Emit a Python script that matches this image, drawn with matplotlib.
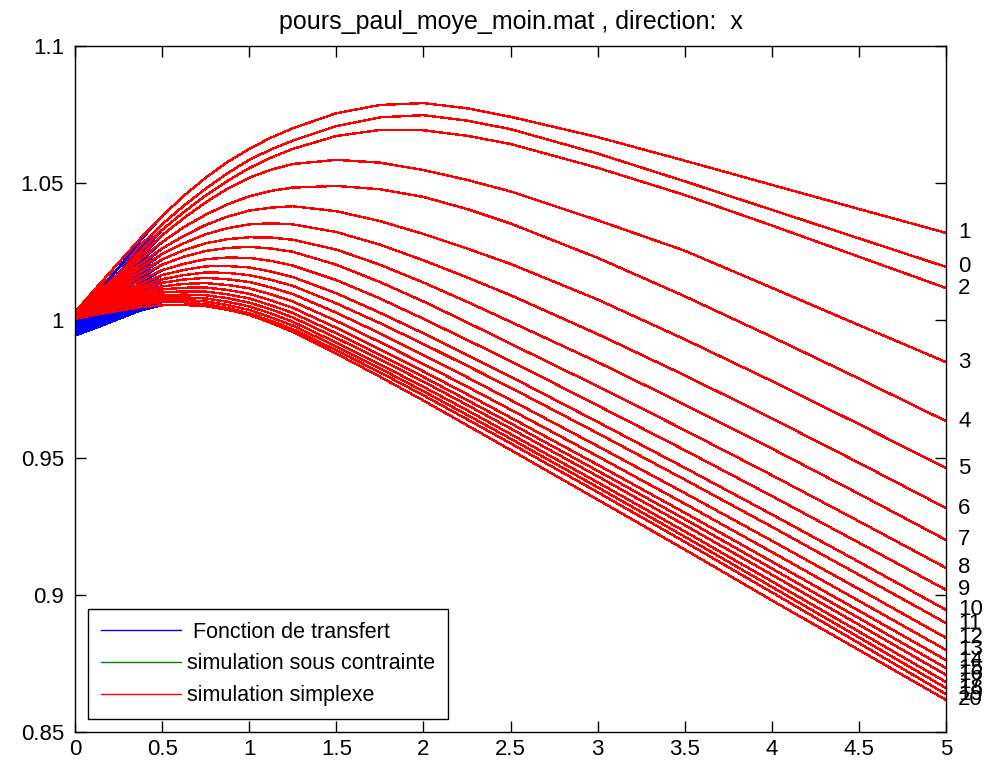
import matplotlib.pyplot as plt

plt.rcParams['font.family'] = ['Liberation Sans', 'DejaVu Sans']

# x sample points (s)
x_pts = [0, 0.125, 0.25, 0.375, 0.5, 0.625, 0.75, 0.875, 1.0, 1.125, 1.25,
         1.5, 1.75, 2.0, 2.25, 2.5, 3.0, 3.5, 4.0, 4.5, 5.0]

# simulation simplexe, one row per curve (curve 0 .. 20)
simplexe_y = [
    [1.0025, 1.0109, 1.019, 1.0273, 1.035, 1.0418, 1.048, 1.0536, 1.0585, 1.0623, 1.0655, 1.0708, 1.074, 1.0748, 1.0728, 1.0697, 1.0608, 1.0507, 1.0403, 1.0299, 1.0195],
    [1.003, 1.0121, 1.021, 1.0298, 1.038, 1.0454, 1.052, 1.0577, 1.0625, 1.0666, 1.070, 1.0755, 1.0785, 1.0792, 1.0773, 1.0742, 1.0668, 1.0582, 1.0494, 1.0406, 1.0319],
    [1.0025, 1.0099, 1.017, 1.0252, 1.033, 1.0395, 1.0455, 1.0508, 1.0555, 1.0593, 1.0625, 1.0672, 1.0694, 1.0693, 1.0673, 1.0643, 1.0556, 1.0457, 1.0346, 1.0232, 1.0118],
    [1.002, 1.0092, 1.016, 1.0237, 1.031, 1.0373, 1.043, 1.048, 1.052, 1.0549, 1.057, 1.0585, 1.0575, 1.0548, 1.0512, 1.047, 1.0365, 1.0254, 1.0119, 0.9983, 0.9848],
    [1.002, 1.0089, 1.0155, 1.0223, 1.0285, 1.034, 1.0385, 1.0423, 1.0452, 1.0472, 1.0484, 1.049, 1.0478, 1.045, 1.0406, 1.0353, 1.0228, 1.0088, 0.994, 0.9788, 0.9633],
    [1.0018, 1.0083, 1.0145, 1.0206, 1.0262, 1.0308, 1.0348, 1.0378, 1.04, 1.0411, 1.0416, 1.0398, 1.0362, 1.0315, 1.0262, 1.0206, 1.0076, 0.9931, 0.9779, 0.9622, 0.9462],
    [1.0016, 1.0078, 1.0135, 1.0192, 1.0242, 1.0281, 1.0314, 1.0336, 1.035, 1.0354, 1.035, 1.0322, 1.0276, 1.0219, 1.0157, 1.0092, 0.995, 0.98, 0.9643, 0.9481, 0.9316],
    [1.0015, 1.0073, 1.0125, 1.0177, 1.0222, 1.0256, 1.0281, 1.0296, 1.0303, 1.0302, 1.0294, 1.0258, 1.0203, 1.0138, 1.0068, 0.9995, 0.9848, 0.9693, 0.9533, 0.9368, 0.92],
    [1.0014, 1.0067, 1.0115, 1.0162, 1.0203, 1.0232, 1.0253, 1.0264, 1.0268, 1.0262, 1.025, 1.0203, 1.014, 1.0069, 0.9993, 0.9915, 0.976, 0.96, 0.9436, 0.9268, 0.9098],
    [1.0013, 1.0061, 1.0105, 1.0147, 1.0183, 1.0206, 1.0223, 1.0229, 1.0228, 1.0217, 1.02, 1.0147, 1.008, 1.0006, 0.9929, 0.9852, 0.969, 0.9527, 0.936, 0.919, 0.9018],
    [1.0012, 1.0056, 1.0095, 1.0133, 1.0165, 1.0184, 1.0197, 1.0198, 1.0193, 1.0178, 1.0158, 1.0099, 1.0028, 0.9953, 0.9874, 0.9795, 0.963, 0.9463, 0.9293, 0.912, 0.8945],
    [1.0011, 1.0052, 1.0088, 1.0122, 1.015, 1.0165, 1.0175, 1.0173, 1.0165, 1.0148, 1.0126, 1.0062, 0.999, 0.9914, 0.9835, 0.9755, 0.9589, 0.942, 0.9248, 0.9073, 0.8897],
    [1.001, 1.0048, 1.0082, 1.0112, 1.0137, 1.0149, 1.0155, 1.015, 1.014, 1.012, 1.0096, 1.0028, 0.9953, 0.9874, 0.9793, 0.971, 0.9542, 0.9371, 0.9197, 0.9021, 0.8843],
    [1.001, 1.0045, 1.0076, 1.0102, 1.0124, 1.0133, 1.0136, 1.0129, 1.0117, 1.0095, 1.0069, 0.9998, 0.9921, 0.9841, 0.9759, 0.9675, 0.9505, 0.9332, 0.9156, 0.8978, 0.8799],
    [1.0009, 1.0041, 1.007, 1.0094, 1.0113, 1.0119, 1.012, 1.0111, 1.0097, 1.0073, 1.0046, 0.9973, 0.9895, 0.9814, 0.9731, 0.9646, 0.9474, 0.9299, 0.9121, 0.8942, 0.8762],
    [1.0008, 1.0038, 1.0065, 1.0086, 1.0102, 1.0106, 1.0105, 1.0095, 1.008, 1.0055, 1.0027, 0.9953, 0.9875, 0.9794, 0.971, 0.9625, 0.9452, 0.9276, 0.9096, 0.8915, 0.8733],
    [1.0008, 1.0035, 1.006, 1.0078, 1.0092, 1.0094, 1.0092, 1.0081, 1.0065, 1.004, 1.0011, 0.9936, 0.9858, 0.9777, 0.9692, 0.9606, 0.9432, 0.9254, 0.9073, 0.8891, 0.8708],
    [1.0007, 1.0032, 1.0055, 1.0071, 1.0083, 1.0084, 1.008, 1.0068, 1.0051, 1.0025, 0.9995, 0.9919, 0.984, 0.9758, 0.9673, 0.9586, 0.941, 0.9231, 0.9049, 0.8866, 0.8682],
    [1.0007, 1.0029, 1.005, 1.0065, 1.0075, 1.0075, 1.0069, 1.0056, 1.0038, 1.0011, 0.9981, 0.9905, 0.9825, 0.9742, 0.9656, 0.9569, 0.9392, 0.9212, 0.9029, 0.8845, 0.866],
    [1.0006, 1.0026, 1.0045, 1.0058, 1.0067, 1.0066, 1.0059, 1.0045, 1.0026, 0.9998, 0.9968, 0.9891, 0.9811, 0.9727, 0.964, 0.9552, 0.9374, 0.9193, 0.9009, 0.8824, 0.8638],
    [1.0005, 1.0022, 1.0035, 1.0048, 1.0055, 1.0056, 1.0052, 1.0039, 1.002, 0.9991, 0.9958, 0.9879, 0.9795, 0.9708, 0.9618, 0.9528, 0.9347, 0.9165, 0.898, 0.8799, 0.8617],
]

# fonction de transfert: starts lower, joins the simplexe curves from x = 0.5
fdt_y0 = [0.9990, 0.9995, 0.9988, 0.9985, 0.998, 0.9977, 0.9974, 0.997, 0.9967, 0.9964, 0.9961,
          0.9958, 0.9956, 0.9954, 0.9952, 0.995, 0.9949, 0.9948, 0.9947, 0.9946, 0.9945]
fdt_y1 = [1.0081, 1.0093, 1.0069, 1.0064, 1.0057, 1.005, 1.0044, 1.0037, 1.0029, 1.0022, 1.0015,
          1.001, 1.0005, 1.0, 0.9995, 0.9992, 0.9988, 0.9985, 0.9981, 0.9978, 0.9974]
fdt_y2 = [1.0172, 1.0192, 1.0151, 1.0142, 1.0135, 1.0124, 1.0114, 1.0102, 1.0091, 1.008, 1.0069,
          1.0061, 1.0055, 1.0048, 1.0041, 1.0036, 1.003, 1.0025, 1.002, 1.0015, 1.0005]
fdt_y3 = [1.0266, 1.0291, 1.0245, 1.023, 1.0215, 1.0198, 1.0184, 1.0168, 1.0153, 1.0137, 1.0123,
          1.0111, 1.0101, 1.0091, 1.0083, 1.0074, 1.0066, 1.0059, 1.0053, 1.0046, 1.0036]

# simulation sous contrainte follows the simplexe curves
contrainte_y = simplexe_y

curve_labels = [str(i) for i in range(len(simplexe_y))]

x_ticks = [0, 0.5, 1, 1.5, 2, 2.5, 3, 3.5, 4, 4.5, 5]
x_ticklabels = ['0', '0.5', '1', '1.5', '2', '2.5', '3', '3.5', '4', '4.5', '5']
y_ticks = [0.85, 0.9, 0.95, 1, 1.05, 1.1]
y_ticklabels = ['0.85', '0.9', '0.95', '1', '1.05', '1.1']

fig = plt.figure(figsize=(9.85, 7.63), dpi=100)
ax = fig.add_axes([75 / 985, 1 - 732 / 763, (946 - 75) / 985, (732 - 46) / 763])

for i in range(len(simplexe_y)):
    fdt = [fdt_y0[i], fdt_y1[i], fdt_y2[i], fdt_y3[i]] + simplexe_y[i][4:]
    ax.plot(x_pts, fdt, color='#0000ff', lw=1.0, antialiased=False,
            label=' Fonction de transfert' if i == 0 else '_nolegend_')
    ax.plot(x_pts, contrainte_y[i], color='#008000', lw=1.0, antialiased=False,
            label='simulation sous contrainte' if i == 0 else '_nolegend_')
    ax.plot(x_pts, simplexe_y[i], color='#ff0000', lw=1.0, antialiased=False,
            label='simulation simplexe' if i == 0 else '_nolegend_')
    ax.text(5.07, simplexe_y[i][-1], curve_labels[i], fontsize=16,
            va='center', ha='left', clip_on=False)

ax.set_xlim(0, 5)
ax.set_ylim(0.85, 1.1)
ax.set_xticks(x_ticks)
ax.set_xticklabels(x_ticklabels)
ax.set_yticks(y_ticks)
ax.set_yticklabels(y_ticklabels)
ax.tick_params(direction='in', length=8, width=1, top=True, right=True,
               labelsize=16)
ax.tick_params(axis='x', pad=5)
ax.tick_params(axis='y', pad=8)
for s in ax.spines.values():
    s.set_color('k')
    s.set_linewidth(1.0)

ax.set_title('pours_paul_moye_moin.mat , direction:  x', fontsize=18, pad=12)

leg = ax.legend(loc='lower left', bbox_to_anchor=(13 / 871, 13 / 686),
                borderaxespad=0, fontsize=15.5, handlelength=3.7,
                handletextpad=0.3, fancybox=False, edgecolor='k',
                framealpha=1, labelspacing=0.5, borderpad=0.6)
leg.get_frame().set_linewidth(1.0)

fig.savefig('out.png', dpi=100)
